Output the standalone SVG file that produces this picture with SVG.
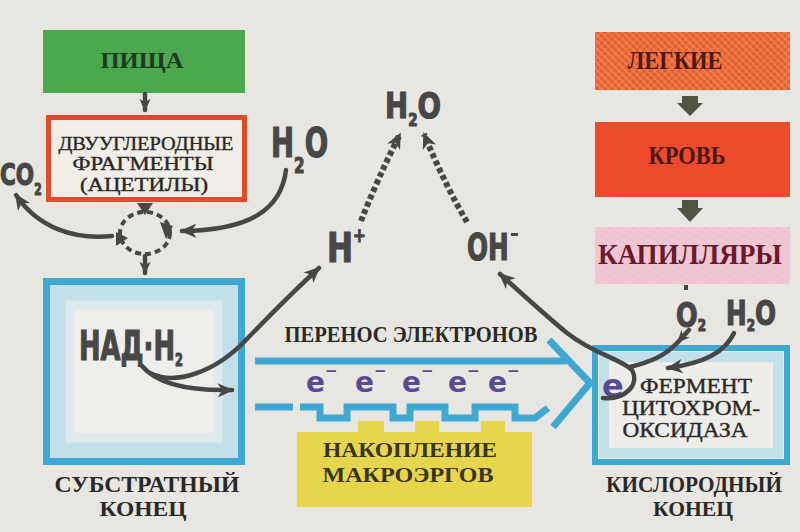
<svg xmlns="http://www.w3.org/2000/svg" width="800" height="532" viewBox="0 0 800 532">
<defs>
<style>
.lbl{font-family:"Liberation Serif","DejaVu Serif",serif;font-weight:bold;text-anchor:middle}
.reg{font-family:"Liberation Serif","DejaVu Serif",serif;font-weight:normal;text-anchor:middle;fill:#2b2925;stroke:#2b2925;stroke-width:0.4}
.chem{font-family:"DejaVu Sans","Liberation Sans",sans-serif;font-weight:bold;fill:#474747;stroke:#474747;stroke-width:1.2}
.el{font-family:"DejaVu Sans","Liberation Sans",sans-serif;font-weight:bold;fill:#5a4a96}
.arr{fill:none;stroke:#474747;stroke-width:4.5;stroke-linecap:round}
.dot{fill:none;stroke:#474747;stroke-width:6;stroke-dasharray:5 3}
.band{fill:none;stroke:#3ea8d2;stroke-width:7;stroke-linejoin:miter}
.cyc{fill:none;stroke:#474747;stroke-width:4;stroke-dasharray:6 4}
</style>
<marker id="ah" markerUnits="userSpaceOnUse" markerWidth="18" markerHeight="18" viewBox="0 0 20 20" refX="17" refY="10" orient="auto"><path d="M1,2 L19,10 L1,18 L6,10 z" fill="#474747"/></marker>
<marker id="ahs" markerUnits="userSpaceOnUse" markerWidth="14" markerHeight="14" viewBox="0 0 20 20" refX="17" refY="10" orient="auto"><path d="M1,2 L19,10 L1,18 L6,10 z" fill="#474747"/></marker>
<pattern id="hatch" width="5" height="5" patternUnits="userSpaceOnUse" patternTransform="rotate(45)"><rect width="5" height="5" fill="#ed6a38"/><line x1="0" y1="0" x2="0" y2="5" stroke="#cf4c24" stroke-width="1.6"/><line x1="0" y1="2.5" x2="5" y2="2.5" stroke="#f28a5a" stroke-width="1.2"/></pattern>
<pattern id="pinktex" width="6" height="6" patternUnits="userSpaceOnUse" patternTransform="rotate(30)"><rect width="6" height="6" fill="#f0c7d5"/><line x1="0" y1="0" x2="6" y2="0" stroke="#e7b6c8" stroke-width="1"/></pattern>
</defs>
<rect width="800" height="532" fill="#e8e6e1"/>

<!-- left column -->
<g id="pishcha">
<rect x="43" y="30" width="202" height="63" fill="#4aa84f"/>
<text class="lbl" x="142" y="68" font-size="23" fill="#1f3a1c" textLength="83" lengthAdjust="spacingAndGlyphs">ПИЩА</text>
</g>
<g id="acetyl">
<rect x="48.5" y="117.5" width="196" height="82" fill="#f1eee8" stroke="#e24a2c" stroke-width="5"/>
<text class="reg" x="146" y="150" font-size="19" textLength="175" lengthAdjust="spacingAndGlyphs">ДВУУГЛЕРОДНЫЕ</text>
<text class="reg" x="143" y="170" font-size="19" textLength="141" lengthAdjust="spacingAndGlyphs">ФРАГМЕНТЫ</text>
<text class="reg" x="144" y="191" font-size="19" textLength="128" lengthAdjust="spacingAndGlyphs">(АЦЕТИЛЫ)</text>
</g>
<g id="co2">
<text class="chem" transform="translate(0,185) scale(0.72,1)" font-size="30">CO<tspan font-size="15" dy="10">2</tspan></text>
</g>
<g id="h2o-left">
<text class="chem" transform="translate(271,157) scale(0.69,1)" font-size="40">H<tspan font-size="22" dy="16">2</tspan><tspan dy="-16">O</tspan></text>
</g>
<g id="cycle">
<ellipse class="cyc" cx="145" cy="233" rx="25" ry="21"/>
<path d="M160,222 L173,226 L166,239 Z" fill="#474747"/>
<path d="M116,246 L116,232 L128,238 Z" fill="#474747"/>
</g>
<g id="nad-box">
<rect x="46.5" y="281.5" width="195" height="180" fill="#efeeea" stroke="#3ea8d2" stroke-width="7"/>
<rect x="58" y="293" width="172" height="157" fill="none" stroke="#b3d9ea" stroke-width="16" opacity="0.75"/>
<rect x="70" y="305" width="148" height="133" fill="none" stroke="#d7e8ee" stroke-width="10" opacity="0.7"/>
<text class="chem" transform="translate(79,360) scale(0.63,1)" font-size="41">НАД·Н<tspan font-size="18" dy="6">2</tspan></text>
<text class="lbl" x="147" y="492" font-size="24" fill="#2b2925" textLength="185" lengthAdjust="spacingAndGlyphs">СУБСТРАТНЫЙ</text>
<text class="lbl" x="143" y="516" font-size="21" fill="#2b2925" textLength="87" lengthAdjust="spacingAndGlyphs">КОНЕЦ</text>
</g>

<!-- middle -->
<g id="h-plus">
<text class="chem" transform="translate(327,262) scale(0.76,1)" font-size="41">H<tspan font-size="20" dy="-20">+</tspan></text>
</g>
<g id="h2o-top">
<text class="chem" transform="translate(385,118) scale(0.79,1)" font-size="35">H<tspan font-size="17" dy="8">2</tspan><tspan dy="-8">O</tspan></text>
</g>
<g id="oh-minus">
<text class="chem" transform="translate(467,260) scale(0.67,1)" font-size="37">OH</text>
<rect x="511" y="233" width="7" height="3" fill="#474747"/>
</g>
<g id="transfer">
<text class="lbl" x="411" y="342" font-size="23" fill="#2b2925" textLength="253" lengthAdjust="spacingAndGlyphs">ПЕРЕНОС ЭЛЕКТРОНОВ</text>
<path class="band" d="M255,361 H566 M549,340 L590,383 L553,427"/>
<path class="band" d="M255,407 H293 M300,407 H320 V418 H347 V407 H393 V418 H410 V407 H445 V418 H475 V407 H515 V418 H535 L548,408"/>
<text class="el" x="306" y="392" font-size="28">e<tspan font-size="15" dy="-16">−</tspan></text>
<text class="el" x="355" y="392" font-size="28">e<tspan font-size="15" dy="-16">−</tspan></text>
<text class="el" x="402" y="392" font-size="28">e<tspan font-size="15" dy="-16">−</tspan></text>
<text class="el" x="448" y="392" font-size="28">e<tspan font-size="15" dy="-16">−</tspan></text>
<text class="el" x="488" y="392" font-size="28">e<tspan font-size="15" dy="-16">−</tspan></text>
</g>
<g id="makroergi">
<path d="M297,432 H358 V421 H384 V432 H415 V421 H439 V432 H481 V421 H505 V432 H532 V507 H297 Z" fill="#e7d64c"/>
<text class="lbl" x="410" y="457" font-size="22" fill="#3a3418" textLength="174" lengthAdjust="spacingAndGlyphs">НАКОПЛЕНИЕ</text>
<text class="lbl" x="408" y="482" font-size="22" fill="#3a3418" textLength="171" lengthAdjust="spacingAndGlyphs">МАКРОЭРГОВ</text>
</g>

<!-- right column -->
<g id="legkie">
<rect x="595" y="32" width="195" height="58" fill="url(#hatch)"/>
<text class="lbl" x="675" y="69" font-size="26" fill="#4a1a10" textLength="95" lengthAdjust="spacingAndGlyphs">ЛЕГКИЕ</text>
</g>
<g id="krov">
<rect x="595" y="122" width="195" height="75" fill="#ee4a2c"/>
<text class="lbl" x="687" y="164" font-size="26" fill="#4a1810" textLength="77" lengthAdjust="spacingAndGlyphs">КРОВЬ</text>
</g>
<g id="kapillyary">
<rect x="595" y="227" width="195" height="57" fill="url(#pinktex)"/>
<text class="lbl" x="690" y="264" font-size="30" fill="#6a1a2a" textLength="184" lengthAdjust="spacingAndGlyphs">КАПИЛЛЯРЫ</text>
</g>
<g id="o2">
<text class="chem" transform="translate(676,327) scale(0.75,1)" font-size="34">O<tspan font-size="16" dy="4">2</tspan></text>
<rect x="684" y="285" width="4" height="5" fill="#474747"/>
</g>
<g id="h2o-right">
<text class="chem" transform="translate(726,325) scale(0.75,1)" font-size="33">H<tspan font-size="16" dy="6">2</tspan><tspan dy="-6">O</tspan></text>
</g>
<g id="oxidase-box">
<rect x="595" y="348" width="192" height="114" fill="#eeede9" stroke="#3ea8d2" stroke-width="6"/>
<rect x="604" y="357" width="174" height="96" fill="none" stroke="#b3d9ea" stroke-width="10" opacity="0.75"/>
<text class="el" x="602" y="397" font-size="32">e</text>
<text class="reg" x="696" y="393" font-size="21" textLength="112" lengthAdjust="spacingAndGlyphs">ФЕРМЕНТ</text>
<text class="reg" x="691" y="415" font-size="21" textLength="138" lengthAdjust="spacingAndGlyphs">ЦИТОХРОМ-</text>
<text class="reg" x="685" y="437" font-size="21" textLength="125" lengthAdjust="spacingAndGlyphs">ОКСИДАЗА</text>
<text class="lbl" x="694" y="492" font-size="23" fill="#2b2925" textLength="176" lengthAdjust="spacingAndGlyphs">КИСЛОРОДНЫЙ</text>
<text class="lbl" x="693" y="516" font-size="21" fill="#2b2925" textLength="80" lengthAdjust="spacingAndGlyphs">КОНЕЦ</text>
</g>

<g id="connectors">
<path class="arr" d="M145,94 V110" marker-end="url(#ahs)"/>
<path d="M137,203 L153,203 L145,215 Z" fill="#474747"/>
<path class="arr" d="M145,256 V273" marker-end="url(#ahs)"/>
<path class="arr" d="M286,170 C281,210 250,230 182,231" marker-end="url(#ah)"/>
<path class="arr" d="M112,236 C75,240 38,228 16,195" marker-end="url(#ah)"/>
<path class="arr" d="M142,366 C158,385 190,391 232,390" marker-end="url(#ah)"/>
<path class="arr" d="M150,373 C175,386 215,372 245,341 C270,315 295,290 319,268" marker-end="url(#ah)"/>
<path class="dot" d="M361,221 Q377,180 400,134" marker-end="url(#ah)"/>
<path class="dot" d="M467,222 Q445,185 424,134" marker-end="url(#ah)"/>
<path class="arr" d="M603,398 C625,400 640,385 632,370 C620,358 595,355 567,333 C545,315 520,292 500,274" marker-end="url(#ah)"/>
<path class="arr" d="M689,330 L678,342" marker-end="url(#ahs)"/>
<path class="arr" d="M677,343 C665,356 650,362 630,367"/>
<path class="arr" d="M734,333 C725,352 705,363 668,368" marker-end="url(#ah)"/>
<path d="M682,96 H698 V103 H703 L690,116 L677,103 H682 Z" fill="#4f5444"/>
<path d="M682,200 H698 V208 H703 L690,222 L677,208 H682 Z" fill="#4f5444"/>
</g>
</svg>
